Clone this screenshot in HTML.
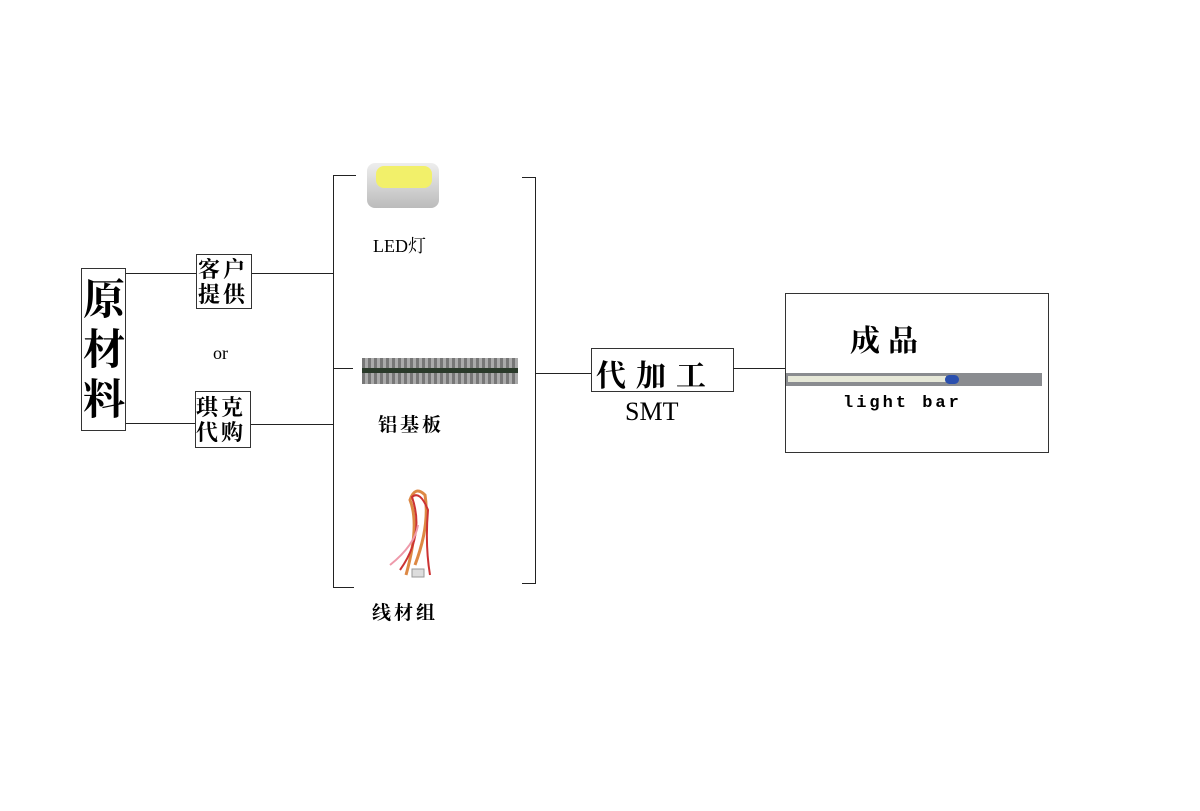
<!DOCTYPE html>
<html><head><meta charset="utf-8"><style>
body{margin:0;width:1200px;height:811px;background:#fff;position:relative;overflow:hidden;font-family:"Liberation Serif","Noto Serif CJK SC",serif;}
.a{position:absolute}
.b{position:absolute;border:1px solid #333;background:#fff;box-sizing:border-box}
.h{position:absolute;height:1px;background:#222}
.v{position:absolute;width:1px;background:#222}
.t{position:absolute;color:#000;font-weight:bold;white-space:nowrap}
</style></head><body>
<div class="h" style="left:125px;top:273px;width:71px"></div>
<div class="h" style="left:125px;top:423px;width:71px"></div>
<div class="h" style="left:251px;top:273px;width:82px"></div>
<div class="h" style="left:250px;top:424px;width:83px"></div>
<div class="b" style="left:81px;top:268px;width:45px;height:163px"></div>
<div class="t" style="left:82px;top:272px;width:44px;font-size:42px;line-height:50px;text-align:center;font-family:'Noto Serif CJK SC',serif">原<br>材<br>料</div>
<div class="b" style="left:196px;top:254px;width:56px;height:55px"></div>
<div class="t" style="left:198px;top:256px;font-size:22px;line-height:25px;letter-spacing:3px;font-family:'Noto Serif CJK SC',serif">客户<br>提供</div>
<div class="b" style="left:195px;top:391px;width:56px;height:57px"></div>
<div class="t" style="left:196px;top:394px;font-size:22px;line-height:25px;letter-spacing:3px;font-family:'Noto Serif CJK SC',serif">琪克<br>代购</div>
<div class="t" style="left:213px;top:343px;font-size:18px;font-weight:normal">or</div>
<div class="v" style="left:333px;top:175px;height:413px"></div>
<div class="h" style="left:333px;top:175px;width:23px"></div>
<div class="h" style="left:333px;top:368px;width:20px"></div>
<div class="h" style="left:333px;top:587px;width:21px"></div>
<div class="v" style="left:535px;top:177px;height:407px"></div>
<div class="h" style="left:522px;top:177px;width:14px"></div>
<div class="h" style="left:522px;top:583px;width:14px"></div>
<div class="h" style="left:535px;top:373px;width:57px"></div>
<div class="a" style="left:367px;top:163px;width:72px;height:45px;background:linear-gradient(#eee,#bbb);border-radius:8px"></div>
<div class="a" style="left:376px;top:166px;width:56px;height:22px;background:#f2f06a;border-radius:8px"></div>
<div class="t" style="left:373px;top:232px;font-size:18px;font-weight:normal">LED灯</div>
<div class="a" style="left:362px;top:358px;width:156px;height:26px;background:repeating-linear-gradient(90deg,#777 0 3px,#aaa 3px 6px)"></div>
<div class="a" style="left:362px;top:368px;width:156px;height:5px;background:#2a3a2a"></div>
<div class="t" style="left:378px;top:410px;font-size:19px;letter-spacing:3px;font-family:'Noto Serif CJK SC',serif">铝基板</div>
<svg class="a" style="left:370px;top:485px" width="100" height="100">
<path d="M36 90 Q50 40 40 15 Q45 0 55 10 Q60 40 45 80" stroke="#d84" stroke-width="3" fill="none"/>
<path d="M30 85 Q55 50 42 12 Q50 5 58 25 Q55 60 60 90" stroke="#c33" stroke-width="2" fill="none"/>
<path d="M20 80 Q45 60 48 40" stroke="#e9a" stroke-width="2" fill="none"/>
<rect x="42" y="84" width="12" height="8" fill="#ddd" stroke="#999"/>
</svg>
<div class="t" style="left:372px;top:598px;font-size:19px;letter-spacing:3px;font-family:'Noto Serif CJK SC',serif">线材组</div>
<div class="b" style="left:591px;top:348px;width:143px;height:44px"></div>
<div class="t" style="left:596px;top:351px;font-size:30px;letter-spacing:10px;font-family:'Noto Serif CJK SC',serif">代加工</div>
<div class="t" style="left:625px;top:397px;font-size:26px;font-weight:normal;font-family:'Liberation Serif',serif">SMT</div>
<div class="h" style="left:733px;top:368px;width:53px"></div>
<div class="b" style="left:785px;top:293px;width:264px;height:160px"></div>
<div class="t" style="left:850px;top:316px;font-size:30px;letter-spacing:8px;font-family:'Noto Serif CJK SC',serif">成品</div>
<div class="a" style="left:786px;top:373px;width:256px;height:13px;background:#8a8c90"></div>
<div class="a" style="left:788px;top:376px;width:158px;height:6px;background:#e6e8d8"></div>
<div class="a" style="left:945px;top:375px;width:14px;height:9px;border-radius:5px;background:#2a4fae"></div>
<div class="t" style="left:843px;top:394px;font-size:17px;letter-spacing:3px;font-family:'Liberation Mono',monospace">light bar</div>
</body></html>
